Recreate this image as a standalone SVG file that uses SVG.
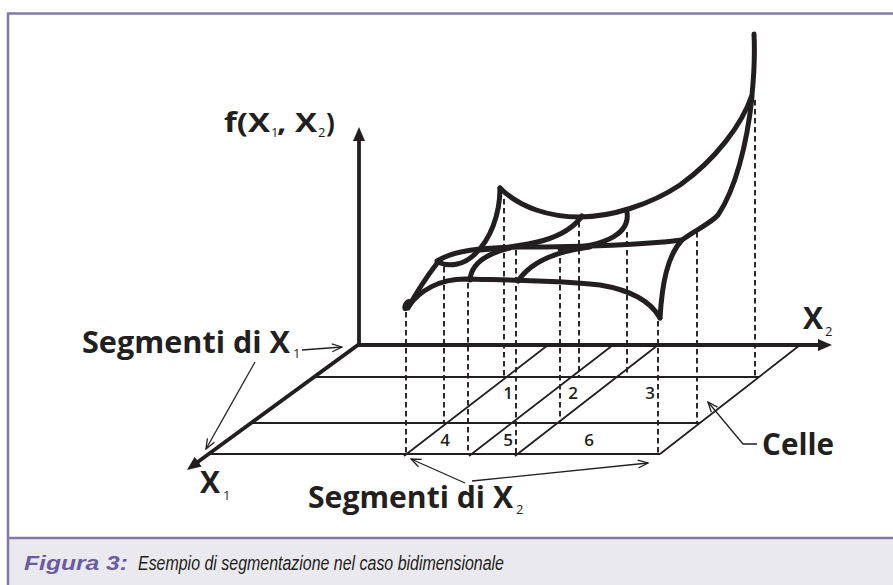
<svg xmlns="http://www.w3.org/2000/svg" width="893" height="585" viewBox="0 0 893 585">
<defs>
<style>
.frame{fill:none;stroke:#8279a8;stroke-width:2.5}
.axis{fill:none;stroke:#231f20;stroke-width:3.8}
.grid{fill:none;stroke:#231f20;stroke-width:1.8}
.dash{fill:none;stroke:#231f20;stroke-width:1.9;stroke-dasharray:5.5 3.5}
.surf{fill:none;stroke:#231f20;stroke-width:5;stroke-linecap:round;stroke-linejoin:round}
.ann{fill:none;stroke:#231f20;stroke-width:1.3}
.lbl{font-family:"Open Sans","Liberation Sans",sans-serif;font-weight:700;font-size:30px;fill:#231f20}
.fx{font-size:26px}
.sub{font-family:"Open Sans","Liberation Sans",sans-serif;font-weight:400;font-size:13px;fill:#231f20}
.num{font-family:"Open Sans","Liberation Sans",sans-serif;font-weight:600;font-size:17px;fill:#231f20;text-anchor:middle}
.cap{font-family:"Liberation Sans",sans-serif;font-style:italic;font-size:20px;fill:#231f20}
.capb{font-weight:700;fill:#6a5c9e}
</style>
<marker id="ah" viewBox="0 0 14 12" refX="4" refY="6" markerWidth="14" markerHeight="12" markerUnits="userSpaceOnUse" orient="auto-start-reverse"><path d="M0,0 L14,6 L0,12 z" fill="#231f20"/></marker>
<marker id="oh" viewBox="0 0 12 10" refX="11" refY="5" markerWidth="12" markerHeight="10" markerUnits="userSpaceOnUse" orient="auto"><path d="M1,1 L11,5 L1,9" fill="none" stroke="#231f20" stroke-width="1.3"/></marker>
</defs>
<rect x="0" y="0" width="893" height="585" fill="#ffffff"/>
<g id="caption-bar">
<rect x="8" y="538" width="885" height="47" fill="#ebe9f0"/>
<line class="frame" x1="8" y1="538" x2="893" y2="538"/>
<text class="cap" y="570"><tspan class="capb" x="24" textLength="104" lengthAdjust="spacingAndGlyphs">Figura 3:</tspan><tspan x="138" textLength="366" lengthAdjust="spacingAndGlyphs">Esempio di segmentazione nel caso bidimensionale</tspan></text>
</g>
<g id="frame">
<path class="frame" d="M8,585 V13.5 H893"/>
</g>
<g id="grid">
<path class="grid" d="M313,377 H759 M251,423 H700 M209,454 H660 M404,456 L548,345 M469,456 L613,345 M515,456 L658,345 M660,454 L800,345"/>
</g>
<g id="axes">
<path class="axis" d="M822,345 L358,345 L195,464" marker-start="url(#ah)" marker-end="url(#ah)"/>
<line class="axis" x1="359" y1="345" x2="359" y2="137" marker-end="url(#ah)"/>
</g>
<g id="projections">
<path class="dash" d="M406,312 V454 M444,267 V423 M468,283 V454 M504,199 V377 M516,250 V454 M560,258 V423 M579,222 V377 M627,232 V377 M658,321 V454 M697,232 V423 M755,100 V377"/>
</g>
<g id="surface">
<path class="surf" d="M500,188 C520,208 550,217 580,217 C610,217 650,205 680,185 C715,160 742,125 752,95 C754,75 755,55 754,34"/>
<path class="surf" d="M660,318 C662,285 667,256 682,240 C695,230 710,224 718,215 C735,190 747,145 752,97"/>
<path class="surf" d="M437,261 C455,250 480,248 520,247 C580,247 640,245 682,240"/>
<path class="surf" d="M500,188 C500,215 490,240 475,254 C465,264 450,268 438,262 C428,275 415,295 408,308"/>
<path class="surf" d="M408,307 C420,290 440,279 465,279 C500,280 560,280 600,285 C630,290 650,300 660,318"/>
<path class="surf" d="M470,280 C471,265 485,254 510,248"/>
<path class="surf" d="M518,281 C528,266 550,252 590,247"/>
<path class="surf" d="M480,250 C530,246 565,240 582,216"/>
<path class="surf" d="M627,212 C630,232 610,246 560,249"/>
<ellipse cx="407" cy="305" rx="4" ry="6.5" transform="rotate(30 407 305)" fill="#231f20"/>
</g>
<g id="connectors">
<line class="ann" x1="302" y1="350" x2="342" y2="347" marker-end="url(#oh)"/>
<line class="ann" x1="255" y1="362" x2="206" y2="449" marker-end="url(#oh)"/>
<line class="ann" x1="465" y1="483" x2="411" y2="459" marker-end="url(#oh)"/>
<line class="ann" x1="472" y1="481" x2="648" y2="463" marker-end="url(#oh)"/>
<polyline class="ann" points="757,444 743,444 708,402" marker-end="url(#oh)"/>
</g>
<g id="labels">
<text class="lbl" x="82" y="353" textLength="208" lengthAdjust="spacingAndGlyphs">Segmenti di X</text>
<text class="sub" x="293" y="358">1</text>
<text class="lbl" x="308" y="508" textLength="205" lengthAdjust="spacingAndGlyphs">Segmenti di X</text>
<text class="sub" x="516" y="514">2</text>
<text class="lbl" x="762" y="455" textLength="72" lengthAdjust="spacingAndGlyphs">Celle</text>
<text class="lbl" x="200" y="493">X</text>
<text class="sub" x="223" y="500">1</text>
<text class="lbl" x="803" y="329">X</text>
<text class="sub" x="825" y="336">2</text>
<text class="lbl fx" x="224" y="132" textLength="46" lengthAdjust="spacingAndGlyphs">f(X</text>
<text class="sub" x="271" y="137">1</text>
<text class="lbl fx" x="277" y="132" textLength="40" lengthAdjust="spacingAndGlyphs">, X</text>
<text class="sub" x="318" y="137">2</text>
<text class="lbl fx" x="326" y="132">)</text>
</g>
<g id="cells">
<text class="num" x="508" y="399">1</text>
<text class="num" x="573" y="399">2</text>
<text class="num" x="650" y="399">3</text>
<text class="num" x="445" y="446">4</text>
<text class="num" x="508" y="446">5</text>
<text class="num" x="589" y="446">6</text>
</g>
</svg>
